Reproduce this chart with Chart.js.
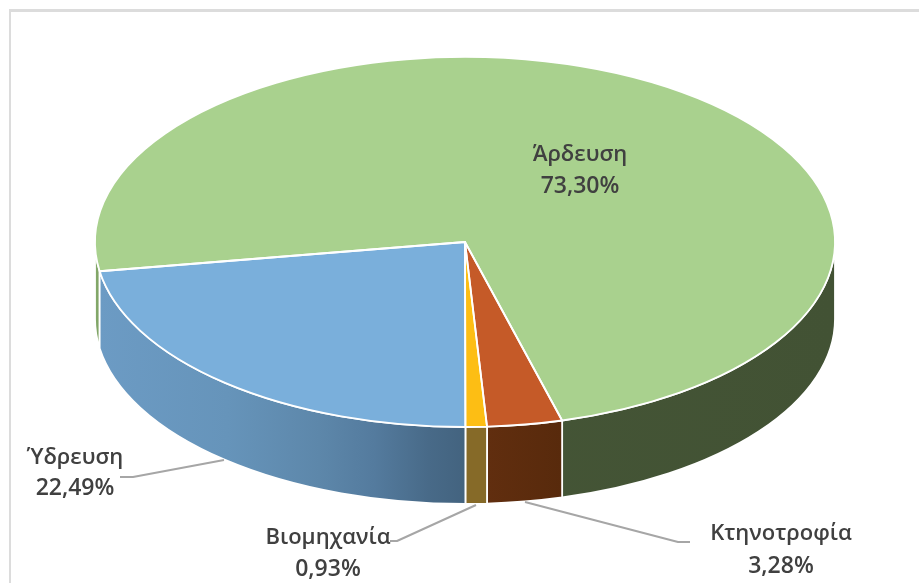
<!DOCTYPE html>
<html lang="el">
<head>
<meta charset="utf-8">
<title>Κατανομή χρήσεων νερού</title>
<script src="https://cdn.jsdelivr.net/npm/chart.js@4"></script>
<style>
html,body{margin:0;padding:0;background:#fff;width:919px;height:583px;overflow:hidden}
#frame{position:absolute;left:9px;top:9px;width:910px;height:574px;box-sizing:border-box;border-top:3px solid #dcdcdc;border-left:2px solid #dcdcdc}
#c{position:absolute;left:0;top:0;display:block;filter:blur(0.45px)}
</style>
</head>
<body>
<div id="frame"></div>
<canvas id="c" width="919" height="583"></canvas>
<script>
const categories = ['Άρδευση', 'Κτηνοτροφία', 'Βιομηχανία', 'Ύδρευση'];
const shares = [73.30, 3.28, 0.93, 22.49];

const topColors = ['#a9d18e', '#c55a28', '#fdbe14', '#7aafdb'];
const wallStops = [
  [[0, '#86ac6c'], [0.008, '#7a9c60'], [0.012, '#475838'], [1, '#425234']],
  [[0, '#612e0f'], [1, '#582a0c']],
  [[0, '#866a28'], [1, '#866a28']],
  [[0, '#6c9bc4'], [0.35, '#6694ba'], [0.6, '#5d87aa'], [0.75, '#547b9e'], [0.9, '#486a88'], [1, '#43637f']]
];
const startDeg = 260.9;
const squash = { cx: 465, cy: 242, rx: 370, ry: 185, depth: 77 };
const labelPlaces = [
  { x: 580, y: 155, y2: 186 },
  { x: 781, y: 534, y2: 566 },
  { x: 328, y: 538, y2: 569 },
  { x: 75, y: 458, y2: 488 }
];
const leaders = [
  null,
  [[525, 502], [678, 542], [690, 542]],
  [[476, 505], [397, 541], [390, 541]],
  [[224, 460], [133, 477], [120, 477]]
];

function wallPieces(s, e) {
  const out = [];
  for (let k = -1; k <= 1; k++) {
    const a = Math.max(s, 2 * Math.PI * k), b = Math.min(e, Math.PI + 2 * Math.PI * k);
    if (b > a) out.push([a, b]);
  }
  return out;
}

const pie3d = {
  id: 'pie3d',
  beforeDatasetDraw(chart) {
    const ctx = chart.ctx, g = squash;
    chart.getDatasetMeta(0).data.forEach((arc, i) => {
      const pieces = wallPieces(arc.startAngle, arc.endAngle);
      const xs = pieces.flat().map(t => g.cx + g.rx * Math.cos(t));
      const grad = ctx.createLinearGradient(Math.min(...xs), 0, Math.max(...xs), 0);
      wallStops[i].forEach(([p, c]) => grad.addColorStop(p, c));
      pieces.forEach(([a, b]) => {
        ctx.beginPath();
        ctx.ellipse(g.cx, g.cy, g.rx, g.ry, 0, a, b);
        ctx.ellipse(g.cx, g.cy + g.depth, g.rx, g.ry, 0, b, a, true);
        ctx.closePath();
        ctx.fillStyle = grad;
        ctx.fill();
        ctx.strokeStyle = '#fff';
        ctx.lineWidth = 1.8;
        ctx.stroke();
      });
    });
    ctx.save();
    ctx.translate(g.cx, g.cy);
    ctx.scale(g.rx / g.ry, 1);
    ctx.translate(-g.cx, -g.cy);
  },
  afterDatasetDraw(chart) {
    const ctx = chart.ctx, g = squash;
    ctx.restore();
    chart.getDatasetMeta(0).data.forEach(arc => {
      ctx.beginPath();
      ctx.moveTo(g.cx, g.cy);
      ctx.ellipse(g.cx, g.cy, g.rx, g.ry, 0, arc.startAngle, arc.endAngle);
      ctx.closePath();
      ctx.strokeStyle = '#fff';
      ctx.lineWidth = 1.8;
      ctx.lineJoin = 'round';
      ctx.stroke();
    });
  },
  afterDraw(chart) {
    const ctx = chart.ctx;
    ctx.save();
    ctx.strokeStyle = '#a6a6a6';
    ctx.lineWidth = 2;
    leaders.forEach(pts => {
      if (!pts) return;
      ctx.beginPath();
      pts.forEach(([x, y], j) => j ? ctx.lineTo(x, y) : ctx.moveTo(x, y));
      ctx.stroke();
    });
    ctx.fillStyle = '#404040';
    ctx.textAlign = 'center';
    ctx.textBaseline = 'middle';
    categories.forEach((name, i) => {
      const p = labelPlaces[i];
      ctx.font = '600 22px "Open Sans", sans-serif';
      ctx.fillText(name, p.x, p.y);
      ctx.font = '600 23px "Open Sans", sans-serif';
      ctx.fillText(shares[i].toFixed(2).replace('.', ',') + '%', p.x, p.y2);
    });
    ctx.restore();
  }
};

new Chart(document.getElementById('c'), {
  type: 'pie',
  data: {
    labels: categories,
    datasets: [{ data: shares, backgroundColor: topColors, borderWidth: 0, clip: false }]
  },
  options: {
    responsive: false,
    animation: false,
    rotation: startDeg,
    layout: { padding: { left: 280, right: 269, top: 57, bottom: 156 } },
    plugins: { legend: { display: false }, tooltip: { enabled: false } }
  },
  plugins: [pie3d]
});
</script>
</body>
</html>
